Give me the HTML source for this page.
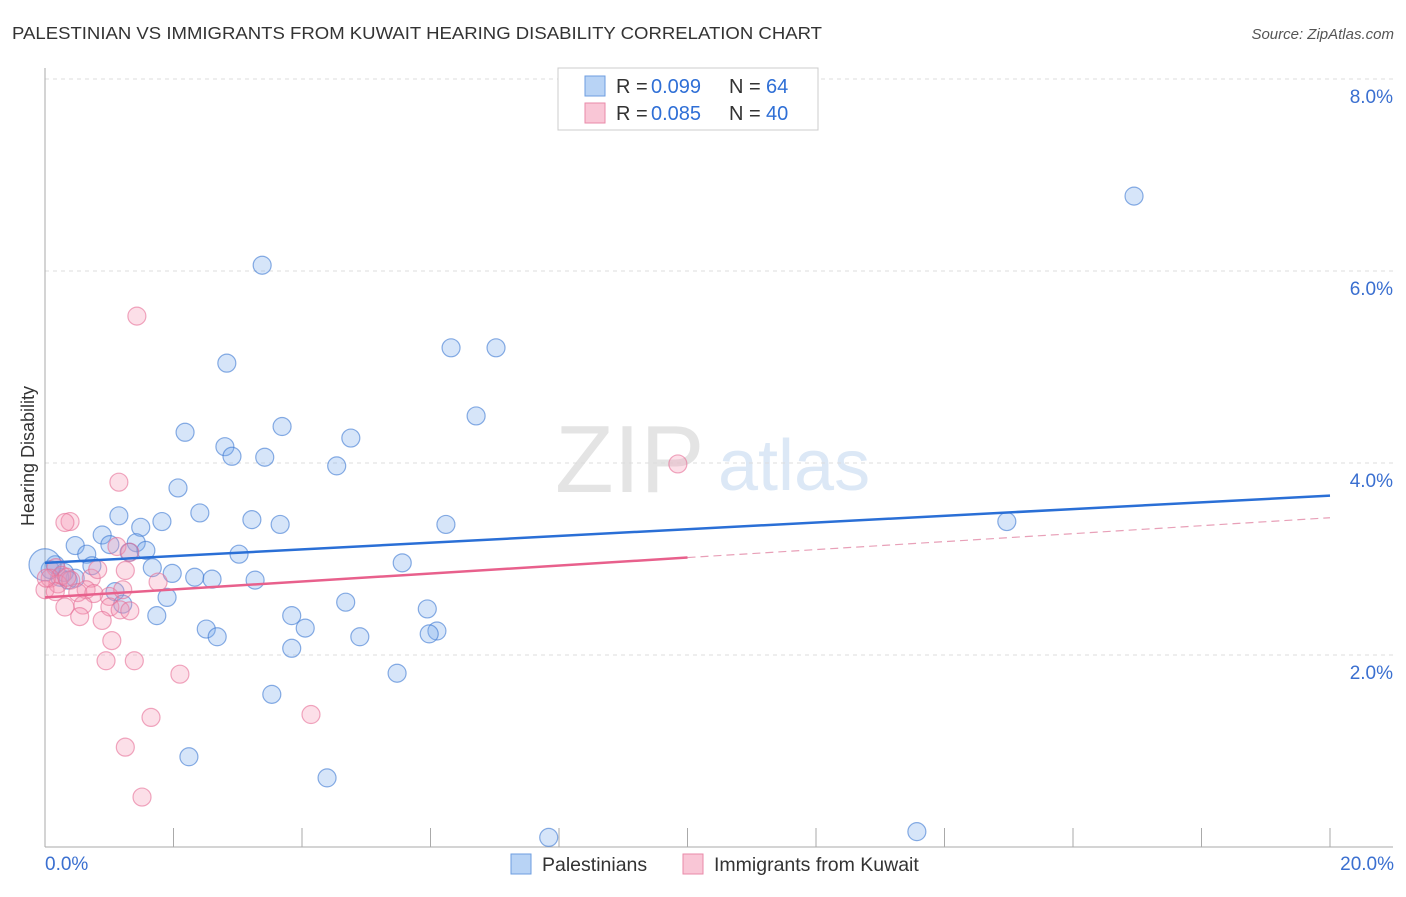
<!DOCTYPE html>
<html><head><meta charset="utf-8"><style>
body{margin:0;background:#fff;font-family:"Liberation Sans",sans-serif}
svg text{font-family:"Liberation Sans",sans-serif}
</style></head><body>
<svg width="1406" height="892" xmlns="http://www.w3.org/2000/svg">
<text x="12" y="39" font-size="17.5" fill="#333" textLength="810" lengthAdjust="spacingAndGlyphs">PALESTINIAN VS IMMIGRANTS FROM KUWAIT HEARING DISABILITY CORRELATION CHART</text>
<text x="1394" y="39" font-size="15" fill="#555" text-anchor="end" font-style="italic">Source: ZipAtlas.com</text>
<text x="555" y="492" font-size="96" fill="#e4e4e4" font-family="Liberation Serif,serif">ZIP</text>
<text x="718" y="490" font-size="72" fill="#dce8f6">atlas</text>
<g id="grid"></g>
<g id="axes"></g>
<g id="marks"></g>
<text transform="translate(34,456) rotate(-90)" font-size="18" fill="#333" text-anchor="middle">Hearing Disability</text>
<text x="45" y="870" font-size="19" fill="#3a6fd0">0.0%</text>
<text x="1394" y="870" font-size="19" fill="#3a6fd0" text-anchor="end">20.0%</text>
<g>
<rect x="558" y="68" width="260" height="62" fill="#fff" stroke="#ccc"/>
<rect x="585" y="76" width="20" height="20" fill="#b8d3f5" stroke="#6e9ee0"/>
<rect x="585" y="103" width="20" height="20" fill="#f9c6d6" stroke="#e98aa8"/>
<text x="616" y="93" font-size="20" fill="#333">R =</text>
<text x="651" y="93" font-size="20" fill="#2f6fd6">0.099</text>
<text x="729" y="93" font-size="20" fill="#333">N =</text>
<text x="766" y="93" font-size="20" fill="#2f6fd6">64</text>
<text x="616" y="120" font-size="20" fill="#333">R =</text>
<text x="651" y="120" font-size="20" fill="#2f6fd6">0.085</text>
<text x="729" y="120" font-size="20" fill="#333">N =</text>
<text x="766" y="120" font-size="20" fill="#2f6fd6">40</text>
</g>
<g>
<rect x="511" y="854" width="20" height="20" fill="#b8d3f5" stroke="#6e9ee0"/>
<text x="542" y="871" font-size="19.5" fill="#333">Palestinians</text>
<rect x="683" y="854" width="20" height="20" fill="#f9c6d6" stroke="#e98aa8"/>
<text x="714" y="871" font-size="19.5" fill="#333">Immigrants from Kuwait</text>
</g>
</svg>
<script>
const yTicks=[2,4,6,8];
const yTickLabels=["2.0%","4.0%","6.0%","8.0%"];
const xTicks=[0,2,4,6,8,10,12,14,16,18,20];
const blueX=[3.38,16.95,2.83,6.32,7.02,6.71,2.18,3.69,4.76,2.80,2.91,3.42,4.54,2.07,2.41,1.15,1.82,3.22,3.66,6.24,14.97,1.49,0.89,0.47,1.01,1.42,1.57,1.31,0.65,3.02,5.56,1.67,1.98,2.33,2.60,3.27,0.73,0.47,0.23,0.08,1.09,1.90,1.21,1.74,3.84,4.68,5.95,4.05,2.51,2.68,4.90,6.10,5.98,3.84,5.48,3.53,2.24,4.39,7.84,13.57,0.30,0.16,0.0,0.36];
const blueY=[6.06,6.78,5.04,5.20,5.20,4.49,4.32,4.38,4.26,4.17,4.07,4.06,3.97,3.74,3.48,3.45,3.39,3.41,3.36,3.36,3.39,3.33,3.25,3.14,3.15,3.17,3.09,3.07,3.05,3.05,2.96,2.91,2.85,2.81,2.79,2.78,2.93,2.80,2.81,2.89,2.66,2.60,2.53,2.41,2.41,2.55,2.48,2.28,2.27,2.19,2.19,2.25,2.22,2.07,1.81,1.59,0.94,0.72,0.10,0.16,2.86,2.94,2.94,2.78];
const pinkX=[1.43,1.15,9.85,0.39,0.31,1.12,1.32,0.17,0.26,0.08,0.20,0.40,0.72,0.82,0.64,0.51,1.00,1.21,0.76,0.59,1.01,1.17,1.32,1.76,1.25,0.31,0.54,0.89,1.04,0.95,1.39,2.10,1.65,4.14,1.25,1.51,0.0,0.16,0.02,0.34];
const pinkY=[5.53,3.80,3.99,3.39,3.38,3.13,3.07,2.91,2.83,2.80,2.74,2.78,2.80,2.89,2.68,2.65,2.61,2.68,2.64,2.52,2.50,2.47,2.46,2.76,2.88,2.50,2.40,2.36,2.15,1.94,1.94,1.80,1.35,1.38,1.04,0.52,2.68,2.66,2.80,2.81];
const blueTrend=[2.96,3.66];
const pinkTrend=[2.60,3.43];
const pinkSolidEnd=10;
const X=v=>45+v/20*1285, Y=v=>847-v*96;
const NS="http://www.w3.org/2000/svg";
function mk(t,a,p){const e=document.createElementNS(NS,t);for(const k in a)e.setAttribute(k,a[k]);p.appendChild(e);return e;}
const grid=document.getElementById('grid'),axes=document.getElementById('axes'),marks=document.getElementById('marks');
yTicks.forEach((v,i)=>{
 const l=mk('line',{x1:45,x2:1393,y1:Y(v),y2:Y(v),stroke:'#ddd','stroke-dasharray':'4,4'},grid);
 
 
 const t=mk('text',{x:1393,y:Y(v)+24,'font-size':19,fill:'#3a6fd0','text-anchor':'end'},grid);
 t.textContent=yTickLabels[i];
 
 
});
let a=mk('line',{x1:45,x2:45,y1:68,y2:847,stroke:'#aaa'},axes);


a=mk('line',{x1:45,x2:1393,y1:847,y2:847,stroke:'#aaa'},axes);


xTicks.forEach(v=>{
 const t=mk('line',{x1:X(v),x2:X(v),y1:828,y2:847,stroke:'#aaa'},axes);
 
 
});
blueX.forEach((x,i)=>{
 const c=mk('circle',{cx:X(x),cy:Y(blueY[i]),r:(x===0?16:9),fill:'rgba(120,170,235,0.3)',stroke:'rgba(60,120,210,0.6)','stroke-width':1.2},marks);
 
 
});
pinkX.forEach((x,i)=>{
 const c=mk('circle',{cx:X(x),cy:Y(pinkY[i]),r:9,fill:'rgba(245,150,180,0.3)',stroke:'rgba(230,110,150,0.6)','stroke-width':1.2},marks);
 
 
});
let l=mk('line',{x1:X(0),y1:Y(blueTrend[0]),x2:X(20),y2:Y(blueTrend[1]),stroke:'#2a6fd6','stroke-width':2.5},marks);


const pm=pinkTrend[0]+(pinkTrend[1]-pinkTrend[0])*pinkSolidEnd/20;
l=mk('line',{x1:X(0),y1:Y(pinkTrend[0]),x2:X(pinkSolidEnd),y2:Y(pm),stroke:'#e8608c','stroke-width':2.5},marks);


l=mk('line',{x1:X(pinkSolidEnd),y1:Y(pm),x2:X(20),y2:Y(pinkTrend[1]),stroke:'#e8a0b8','stroke-width':1.2,'stroke-dasharray':'8,5'},marks);


</script>
</body></html>
